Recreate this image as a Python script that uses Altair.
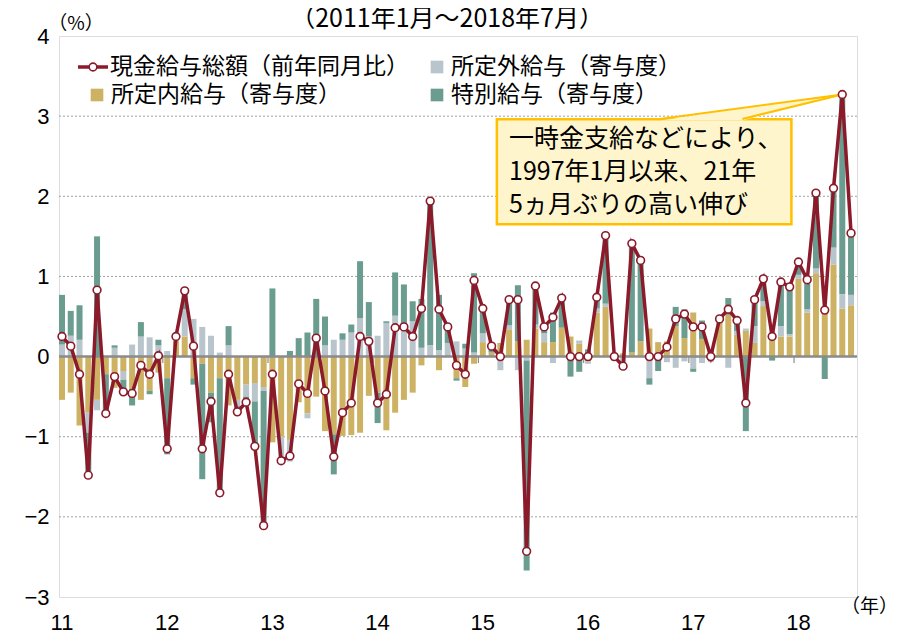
import altair as alt
import pandas as pd

# ---------------- data (monthly, 2011/1 .. 2018/7) ----------------
total = [0.25, 0.13, -0.22, -1.48, 0.83, -0.71, -0.25, -0.44, -0.46, -0.11, -0.22, 0.01,
         -1.15, 0.25, 0.82, 0.13, -1.15, -0.56, -1.70, -0.22, -0.69, -0.57, -1.12, -2.11,
         -0.22, -1.30, -1.24, -0.34, -0.46, 0.23, -0.43, -1.25, -0.70, -0.58, 0.25, 0.19,
         -0.58, -0.47, 0.36, 0.37, 0.25, 0.60, 1.94, 0.59, 0.37, -0.11, -0.22, 0.95,
         0.60, 0.13, 0.00, 0.71, 0.71, -2.43, 0.88, 0.37, 0.49, 0.73, 0.00, 0.00,
         0.00, 0.74, 1.51, 0.00, -0.12, 1.41, 1.20, 0.00, 0.00, 0.12, 0.47, 0.53,
         0.37, 0.37, 0.00, 0.47, 0.59, 0.45, -0.58, 0.71, 0.97, 0.25, 0.93, 0.87,
         1.18, 0.96, 2.04, 0.58, 2.10, 3.27, 1.54]

scheduled = [-0.54, -0.45, -0.86, -0.70, -0.54, -0.22, -0.39, -0.18, -0.40, -0.54, -0.43, -0.20,
             -0.27, 0.20, 0.25, -0.27, -0.09, -0.45, -0.27, -0.61, -0.54, -0.35, -0.33, -0.38,
             -1.07, -1.00, -1.04, -0.57, -0.71, -0.50, -0.93, -0.97, -0.99, -0.98, -0.95, -0.49,
             -0.45, -0.92, -0.70, -0.54, -0.45, -0.11, 0.00, -0.17, 0.00, -0.27, -0.38, -0.09,
             0.18, 0.05, 0.17, 0.34, 0.19, 0.21, 0.35, 0.18, 0.18, 0.36, 0.25, 0.16,
             -0.06, 0.55, 0.62, 0.05, 0.04, 0.05, 0.19, 0.35, 0.18, 0.19, 0.38, 0.23,
             0.55, 0.22, 0.07, 0.47, 0.52, 0.27, 0.32, 0.17, 0.63, 0.30, 0.25, 0.25,
             0.97, 0.55, 1.04, 0.60, 1.15, 0.60, 0.64]

overtime = [0.15, 0.26, 0.21, -0.25, -0.13, 0.00, 0.11, -0.11, 0.15, 0.25, 0.24, 0.14,
            0.07, 0.05, 0.34, 0.47, 0.37, 0.26, 0.05, 0.14, -0.08, -0.15, -0.23, -0.05,
            0.00, -0.30, -0.27, 0.00, -0.06, 0.00, 0.14, 0.21, 0.21, 0.30, 0.48, 0.25,
            0.26, 0.42, 0.51, 0.38, 0.44, 0.11, 0.14, 0.08, 0.17, 0.19, 0.10, 0.05,
            0.11, 0.00, -0.17, 0.05, -0.17, -0.05, 0.05, 0.11, -0.08, 0.00, 0.00, 0.04,
            -0.03, 0.05, 0.04, -0.05, -0.16, 0.00, 0.00, -0.27, 0.00, -0.07, -0.14, -0.06,
            -0.15, -0.08, -0.07, 0.00, -0.14, 0.05, 0.03, 0.21, 0.06, 0.00, 0.13, 0.03,
            0.05, 0.04, 0.06, 0.00, 0.21, 0.18, 0.13]

special = [0.62, 0.31, 0.43, -0.52, 1.50, -0.49, 0.03, -0.15, -0.21, 0.18, -0.04, 0.07,
           -0.95, 0.00, 0.23, -0.08, -1.44, -0.37, -1.48, 0.24, -0.07, -0.07, -0.56, -1.67,
           0.85, 0.00, 0.07, 0.23, 0.30, 0.72, 0.36, -0.50, 0.08, 0.10, 0.71, 0.43,
           -0.38, 0.02, 0.54, 0.52, 0.25, 0.61, 1.80, 0.69, 0.20, -0.03, 0.06, 0.99,
           0.31, 0.08, 0.00, 0.32, 0.70, -2.62, 0.48, 0.08, 0.37, 0.37, -0.25, -0.19,
           0.09, 0.14, 0.85, 0.00, 0.00, 1.36, 1.01, -0.08, -0.18, 0.00, 0.24, 0.36,
           -0.04, 0.23, 0.00, 0.00, 0.21, 0.13, -0.93, 0.33, 0.27, -0.05, 0.55, 0.59,
           0.19, 0.37, 0.94, -0.28, 0.74, 2.49, 0.77]

year_labels = ["11", "12", "13", "14", "15", "16", "17", "18"]
y_tick_values = [-3, -2, -1, 0, 1, 2, 3, 4]
grid_values = [-2, -1, 1, 2, 3]

series_names = ["現金給与総額（前年同月比）", "所定外給与（寄与度）",
                "所定内給与（寄与度）", "特別給与（寄与度）"]
title_text = "（2011年1月～2018年7月）"
y_unit = "（%）"
x_unit = "（年）"
note_lines = ["一時金支給などにより、", "1997年1月以来、21年", "5ヵ月ぶりの高い伸び"]

# ---------------- styles ----------------
C_LINE = "#8B1A2A"
C_TAN = "#CDB264"
C_GRAY = "#B9C5CC"
C_TEAL = "#6A9C8F"
C_NOTE_FILL = "#FFF5CC"
C_NOTE_EDGE = "#FFC000"
FONT_JP = "Noto Sans CJK JP"
FONT_NUM = "Liberation Sans"

W, H = 798, 561
n = len(total)
xscale = alt.Scale(domain=[-0.34, 90.68], nice=False, zero=False, padding=0)
yscale = alt.Scale(domain=[-3, 4], nice=False, zero=False, padding=0)
yaxis = alt.Axis(values=y_tick_values, grid=False, ticks=False, tickSize=0, domain=False,
                 labelFontSize=22, labelFont=FONT_NUM, labelColor="black", labelPadding=10,
                 title=None)


def X(field):
    return alt.X(field, type="quantitative", scale=xscale, axis=None)


def Y(field):
    return alt.Y(field, type="quantitative", scale=yscale, axis=yaxis)


# ---------------- tables ----------------
comp_names = ["所定内給与", "所定外給与", "特別給与"]
rows = []
for i in range(n):
    for k, (name, arr) in enumerate(zip(comp_names, [scheduled, overtime, special])):
        rows.append({"idx": i, "comp": name, "value": arr[i], "ord": k})
bars_df = pd.DataFrame(rows)
line_df = pd.DataFrame({"idx": list(range(n)), "total": total})
years_df = pd.DataFrame({"idx": [12 * k for k in range(len(year_labels))], "label": year_labels})
bound_df = pd.DataFrame({"idx": [12 * k - 0.5 for k in range(1, len(year_labels))]})
grid_df = pd.DataFrame({"v": grid_values})

# ---------------- layers ----------------
grid = alt.Chart(grid_df).mark_rule(color="#A0A0A0", strokeDash=[2, 2], strokeWidth=1).encode(
    y=Y("v"))

bars = alt.Chart(bars_df).mark_bar(size=6).encode(
    x=X("idx"),
    y=alt.Y("value:Q", scale=yscale, axis=yaxis, stack="zero"),
    color=alt.Color("comp:N", scale=alt.Scale(domain=comp_names, range=[C_TAN, C_GRAY, C_TEAL]),
                    legend=None),
    order=alt.Order("ord:Q", sort="ascending"),
)

zero = alt.Chart(grid_df).mark_rule(color="#8C8C8C", strokeWidth=1.5).encode(
    y=alt.YDatum(0, scale=yscale, axis=yaxis))

ticks = alt.Chart(bound_df).mark_rule(color="#8C8C8C", strokeWidth=1.2).encode(
    x=X("idx"), y=alt.YDatum(0, scale=yscale, axis=yaxis), y2=alt.Y2Datum(-0.08))

# annotation (callout box)
box_df = pd.DataFrame({"x": [49.6], "x2": [83.2], "y": [2.96], "y2": [1.65]})
box = alt.Chart(box_df).mark_rect(fill=C_NOTE_FILL, stroke=C_NOTE_EDGE, strokeWidth=2.5).encode(
    x=X("x"), x2="x2", y=Y("y"), y2="y2")

tip_x, tip_y = 89, 3.27
base_a, base_b, base_y = 68.2, 77.6, 2.945
upper_b = base_y + (base_b - base_a) / (tip_x - base_a) * (tip_y - base_y)
wedge_df = pd.DataFrame({"x": [base_a, base_b, tip_x], "y": [base_y, upper_b, tip_y],
                         "y2": [base_y, base_y, tip_y]})
wedge = alt.Chart(wedge_df).mark_area(color=C_NOTE_FILL, opacity=1).encode(
    x=X("x"), y=Y("y"), y2="y2")
edge_df = pd.DataFrame({"x": [base_a, tip_x, base_b, tip_x],
                        "y": [2.965, tip_y, 2.965, tip_y],
                        "e": ["a", "a", "b", "b"]})
edges = alt.Chart(edge_df).mark_line(color=C_NOTE_EDGE, strokeWidth=2).encode(
    x=X("x"), y=Y("y"), detail="e:N")

note_df = pd.DataFrame({"x": [51.0] * 3, "y": [2.71, 2.305, 1.89], "t": note_lines})
note = alt.Chart(note_df).mark_text(align="left", baseline="middle", font=FONT_JP,
                                    fontSize=25, color="black").encode(
    x=X("x"), y=Y("y"), text="t:N")

line = alt.Chart(line_df).mark_line(color=C_LINE, strokeWidth=3.5).encode(
    x=X("idx"), y=Y("total"))
pts = alt.Chart(line_df).mark_point(filled=True, fill="white", stroke=C_LINE, strokeWidth=1.6,
                                    size=60, opacity=1).encode(
    x=X("idx"), y=Y("total"))

# x-axis labels (years)
xlab = alt.Chart(years_df).mark_text(baseline="alphabetic", align="center", font=FONT_NUM,
                                     fontSize=22, color="black").encode(
    x=X("idx"), y=alt.value(H + 33), text="label:N")

# legend (manual)
one = pd.DataFrame({"a": [0]})
LEG_R1, LEG_R2 = 31, 59
leg_line = alt.Chart(one).mark_rule(color=C_LINE, strokeWidth=3.5).encode(
    x=alt.value(19), x2=alt.value(49), y=alt.value(LEG_R1))
leg_pt = alt.Chart(one).mark_point(filled=True, fill="white", stroke=C_LINE, strokeWidth=1.6,
                                   size=60, opacity=1).encode(
    x=alt.value(34), y=alt.value(LEG_R1))
leg_sq_gray = alt.Chart(one).mark_square(color=C_GRAY, size=160, opacity=1).encode(
    x=alt.value(378), y=alt.value(LEG_R1))
leg_sq_tan = alt.Chart(one).mark_square(color=C_TAN, size=160, opacity=1).encode(
    x=alt.value(38), y=alt.value(LEG_R2))
leg_sq_teal = alt.Chart(one).mark_square(color=C_TEAL, size=160, opacity=1).encode(
    x=alt.value(378), y=alt.value(LEG_R2))


def jp_text(txt, x, y, size=23, align="left", baseline="middle"):
    return alt.Chart(pd.DataFrame({"t": [txt]})).mark_text(
        align=align, baseline=baseline, font=FONT_JP, fontSize=size, color="black").encode(
        x=alt.value(x), y=alt.value(y), text="t:N")


leg_t1 = jp_text(series_names[0], 51, LEG_R1)
leg_t2 = jp_text(series_names[1], 392, LEG_R1)
leg_t3 = jp_text(series_names[2], 52, LEG_R2)
leg_t4 = jp_text(series_names[3], 392, LEG_R2)

title = jp_text(title_text, 388, -9, size=25, align="center", baseline="alphabetic")
yunit = jp_text(y_unit, 17, -12, size=19, align="center")
xunit = jp_text(x_unit, 839, 571, size=19, align="right")

chart = alt.layer(
    grid, bars, zero, ticks, box, wedge, edges, note, line, pts, xlab,
    leg_line, leg_pt, leg_sq_gray, leg_sq_tan, leg_sq_teal,
    leg_t1, leg_t2, leg_t3, leg_t4, title, yunit, xunit,
).properties(
    width=W, height=H,
    padding={"left": 51, "top": 28, "right": 42, "bottom": 40},
    autosize=alt.AutoSizeParams(type="none"),
).configure_view(stroke="#9C9C9C", strokeWidth=1.2).configure(background="white")

chart.save("out.html", embed_options={"renderer": "svg", "actions": False})
